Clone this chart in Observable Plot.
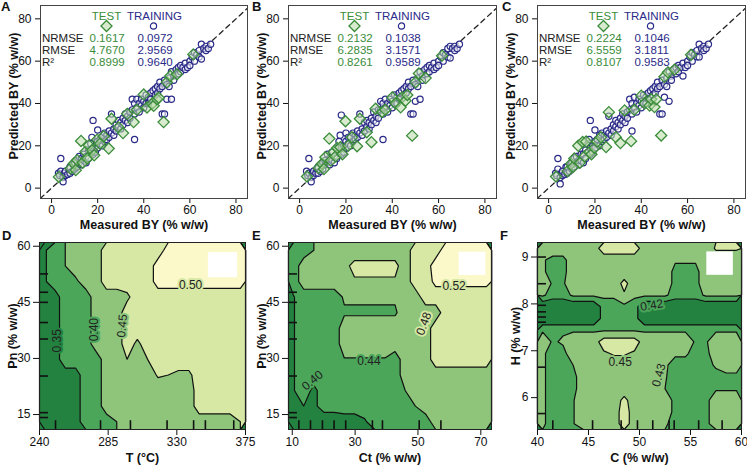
<!DOCTYPE html>
<html>
<head>
<meta charset="utf-8">
<script src="https://cdn.jsdelivr.net/npm/d3@7"></script>
<script src="https://cdn.jsdelivr.net/npm/@observablehq/plot@0.6"></script>
<style>
body { margin: 0; background: #fff; }
#wrap { position: relative; width: 747px; height: 466px; overflow: hidden; font-family: "Liberation Sans", Arial, sans-serif; }
.panel { position: absolute; }
.letter { position: absolute; font-weight: bold; font-size: 13px; line-height: 13px; color: #111; }
</style>
</head>
<body>
<div id="wrap"></div>
<script>
// ---------- Scatter data (top row) ----------
const trainMeasured = [3,3.5,4,4,5,5,5.5,6,6,7,7.5,8,8,9,9.5,10,10,
  11,11,12,12,13,13,14,14,15,15,16,16,17,17,17.5,18,18,18,19,19,20,20,20,
  21,21,22,22,23,23,24,24,25,25,26,26,27,27,28,28,29,29,30,30,
  31,31,32,32,33,33,34,34,35,35,36,36,36,37,37,38,38,39,39,40,40,
  41,41,42,42,43,43,44,45,45,46,46,47,47,48,48,49,49,50,50,51,51,52,52,
  53,53,54,55,55,56,56,57,58,58,59,60,60,61,62,62,63,64,64,65,65,66,67,67,68,69];
const trainPredA = [7,6,14,8,5,3,7,6,8,6.5,9,7,10,8,11,9,12,
  10,13,12,15,11,14,13,16,15,12,14,18,17,21,24,16,32,19,20,17,22,27.5,19,
  21,23,24,20,22,26,25,23,27,24,26,35,28,25,30,27,29,32,31,28,
  33,30,32,35,31,34,36,33,37,42,23,40,35,42,38,36,40,39,42,41,38,
  40,44,43,40,45,42,46,44,47,48,45,50,47,35,48,35,51,49,42,52,48,42,55,
  53,51,56,54,57,58,55,57,59,56,57,60,58,62,60,64,63,65,62,68,61,66,67,65,66,68];
const trainPredB = [8,6,14,7,5,3,7,6,8,7,9,7,10,8,11,9,12,
  11,13,12,16,11,14,13,17,15,12,14,19,17,22,25,16,34.5,19,20,17,22,26,19,
  21,24,24,20,22,26,25,23,27,24,26,35,28,25,31,27,29,32,31,28,
  33,30,32,36,31,34,37,33,37,41,23,40,35,42,38,36,40,39,42,41,38,
  40,44,43,40,45,42,46,44,47,48,45,50,47,35,48,35,51,49,41,52,48,42,55,
  53,51,56,54,57,58,55,57,59,56,57,60,58,62,60,64,63,66,62,67,61.5,66,67,65,66,68];
const trainPredC = [7,6,14,9,5,2,7,6,8,6.5,10,7,10,8,11,9,12,
  10,14,12,15,11,13,13,16,16,12,14,18,17,21,23,16,32,19,20,17,22,27.5,19,
  21,23,25,20,22,26,25,23,27,24,26,34,28,25,30,27,29,32,31,28,
  33,30,32,35,31,34,36,33,37,42,27,40,35,43,38,36,40,39,42,41,38,
  40,44,43,40,45,42,46,44,47,48,45,50,47,35,48,35,51,49,43,52,48,41,55,
  53,51,56,54,57,58,55,57,59,53,57,60,58,62,60,64,63,65,62,68,62,66,67,65,66,68];

const testMeasured = [3.2,8.2,9.7,10.5,11.1,12.8,13.5,14.7,15.5,16.2,17.6,18.5,19.8,21,22.6,24.8,26,29,31,32.8,35.6,37,40,41.4,43.6,44.3,45.7,46.5,48.6,50,51.5,54.4,61.5];
const testPredA = [5.3,9.3,11.6,8.5,13.2,22.3,12,17.2,14,20.2,17.9,15.5,22.9,21,24.5,18.7,32.8,28.7,26,35.1,31.2,37,44.2,38.1,39.8,38.9,42,42.7,31.2,50,53,53.8,63.2];
const testPredB = [5.5,9.5,11.5,9,14.6,23.4,13,17,15,19,19.3,16,31.6,20,24,19.8,32.8,26.4,21.7,37.5,36,37,42.9,40,38.2,43,41.3,44,24.8,50,54.2,52,62.6];
const testPredC = [5.5,8,11.5,10,14,20,12,21.8,15,22,17,16,19,22,24,19.4,35.9,24.1,21.3,36.7,22.2,37,43.7,40,39,42,38.3,42,24.9,52.6,54.7,56,63];

const statNames = ["NRMSE", "RMSE", "R²"];
const statsTestA = ["0.1617", "4.7670", "0.8999"];
const statsTrainA = ["0.0972", "2.9569", "0.9640"];
const statsTestB = ["0.2132", "6.2835", "0.8261"];
const statsTrainB = ["0.1038", "3.1571", "0.9589"];
const statsTestC = ["0.2224", "6.5559", "0.8107"];
const statsTrainC = ["0.1046", "3.1811", "0.9583"];

const topTicks = [0, 20, 40, 60, 80];
const xDomTop = [-4.8, 85];
const yDomTop = [-4.9, 86.3];

// ---------- Contour data (bottom row) ----------
const palette = ["#23823f", "#4ba65a", "#8ec57b", "#d6e8a3", "#fbf9ca"];

// D: T (°C) vs Pn (% w/w); rows from top (Pn high) to bottom
const gridD = [
  [.345,.375,.40,.425,.425,.425,.475,.475,.475,.475,.475,.475,.52,.52,.52,.52,.52,.52,.52,.52],
  [.345,.375,.40,.425,.425,.425,.475,.475,.475,.475,.475,.52,.52,.52,.52,.52,.52,.52,.52,.52],
  [.345,.375,.375,.39,.425,.425,.475,.475,.475,.475,.475,.52,.52,.52,.52,.52,.52,.52,.52,.52],
  [.33,.33,.375,.375,.375,.425,.425,.425,.44,.475,.475,.475,.475,.475,.475,.475,.475,.475,.475,.475],
  [.33,.33,.375,.375,.375,.425,.425,.425,.475,.475,.475,.475,.475,.475,.475,.475,.475,.475,.475,.475],
  [.33,.33,.375,.375,.375,.425,.425,.425,.475,.475,.475,.475,.475,.475,.475,.475,.475,.475,.475,.475],
  [.33,.33,.375,.375,.375,.425,.425,.425,.475,.44,.475,.475,.475,.475,.475,.475,.475,.475,.475,.475],
  [.33,.33,.375,.375,.375,.375,.425,.425,.45,.425,.45,.475,.475,.475,.475,.475,.475,.475,.475,.475],
  [.33,.33,.33,.33,.375,.375,.425,.425,.425,.425,.425,.455,.45,.44,.44,.475,.475,.475,.475,.475],
  [.33,.33,.33,.33,.375,.375,.425,.425,.425,.425,.425,.425,.425,.425,.425,.475,.475,.475,.475,.475],
  [.33,.33,.33,.33,.375,.375,.425,.425,.425,.425,.425,.425,.425,.425,.425,.475,.475,.475,.475,.475],
  [.33,.33,.33,.33,.375,.375,.375,.40,.425,.425,.425,.425,.425,.425,.425,.425,.425,.425,.425,.45]
];
const thresholdsD = [0.3, 0.35, 0.40, 0.45, 0.50];
const xTicksD = [240, 285, 330, 375];
const yTicksPn = [15, 30, 45, 60];
const rugT = [250.5, 280, 299.6, 323.6, 341, 348.7, 367.3];
const rugPn = [52.6, 47.7, 45, 39.6, 35.2, 25.3, 15.5, 14.2];
const labelsD = [
  {x: 251.6, y: 34.7, t: "0.35", r: -90, bg: 0},
  {x: 275.6, y: 37.7, t: "0.40", r: -90, bg: 1},
  {x: 294.2, y: 38.7, t: "0.45", r: -85, bg: 2},
  {x: 339, y: 49.5, t: "0.50", r: 0, bg: 3}
];
const blankD = [{x1: 350.7, x2: 369.8, y1: 51.6, y2: 58.3}];

// E: Ct (% w/w) vs Pn (% w/w)
const gridE = [
  [.42,.42,.44,.46,.46,.46,.46,.46,.46,.46,.46,.46,.50,.50,.50,.54,.54,.54,.54,.54],
  [.42,.46,.46,.46,.46,.47,.49,.49,.49,.49,.49,.46,.50,.50,.54,.54,.54,.54,.54,.54],
  [.42,.46,.46,.46,.46,.46,.476,.476,.476,.476,.476,.46,.50,.50,.53,.53,.53,.53,.53,.53],
  [.398,.42,.42,.42,.42,.445,.445,.445,.445,.445,.445,.46,.46,.50,.50,.50,.50,.50,.50,.50],
  [.398,.42,.42,.42,.42,.435,.435,.435,.435,.435,.435,.46,.46,.46,.46,.50,.50,.50,.50,.50],
  [.398,.42,.42,.42,.42,.46,.46,.46,.46,.46,.46,.46,.46,.46,.50,.50,.50,.50,.50,.50],
  [.398,.42,.42,.42,.42,.46,.46,.46,.46,.46,.46,.46,.46,.46,.50,.50,.50,.50,.50,.50],
  [.398,.42,.42,.42,.42,.438,.438,.438,.438,.438,.42,.46,.46,.46,.50,.50,.50,.50,.50,.50],
  [.398,.42,.42,.42,.42,.42,.42,.42,.42,.42,.42,.46,.46,.46,.46,.46,.46,.46,.46,.46],
  [.398,.42,.39,.42,.42,.42,.42,.42,.42,.42,.42,.44,.46,.46,.46,.46,.46,.46,.46,.46],
  [.398,.40,.39,.42,.42,.42,.42,.42,.42,.42,.42,.42,.44,.46,.46,.46,.46,.46,.46,.46],
  [.37,.37,.37,.37,.37,.38,.38,.395,.42,.42,.42,.42,.42,.42,.46,.46,.46,.46,.46,.46]
];
const thresholdsE = [0.3, 0.40, 0.44, 0.48, 0.52];
const xTicksE = [10, 30, 50, 70];
const rugCt = [12.1, 15.8, 19.6, 23.3, 27, 35.5, 38.7, 50.4, 57.3];
const labelsE = [
  {x: 16.4, y: 24.1, t: "0.40", r: -40, bg: 1},
  {x: 34.4, y: 29.4, t: "0.44", r: 0, bg: 1},
  {x: 51.9, y: 39.3, t: "0.48", r: -70, bg: 3},
  {x: 61.5, y: 49.2, t: "0.52", r: 0, bg: 3}
];
const blankE = [{x1: 63.1, x2: 71.6, y1: 52.2, y2: 58.4}];

// F: C (% w/w) vs H (% w/w)
const gridF = [
  [.44,.44,.44,.44,.44,.44,.46,.46,.46,.46,.44,.44,.44,.44,.44,.44,.44,.452,.452,.452],
  [.432,.425,.425,.44,.44,.44,.44,.44,.44,.44,.44,.44,.44,.432,.432,.432,.44,.44,.44,.44],
  [.432,.425,.425,.44,.44,.44,.44,.44,.44,.44,.44,.44,.44,.425,.425,.425,.44,.44,.44,.44],
  [.44,.428,.428,.44,.44,.44,.44,.44,.455,.44,.44,.44,.44,.425,.425,.425,.44,.44,.44,.44],
  [.432,.425,.425,.432,.432,.432,.432,.432,.448,.432,.432,.432,.432,.425,.425,.425,.432,.432,.432,.432],
  [.41,.41,.41,.41,.41,.41,.425,.425,.425,.425,.41,.41,.41,.41,.41,.41,.41,.41,.41,.41],
  [.41,.41,.41,.41,.41,.41,.425,.425,.425,.425,.41,.41,.41,.41,.41,.41,.41,.41,.41,.41],
  [.428,.428,.428,.428,.428,.428,.428,.428,.428,.428,.428,.428,.428,.428,.428,.428,.428,.428,.428,.428],
  [.44,.428,.432,.44,.44,.44,.46,.46,.46,.46,.44,.44,.44,.44,.44,.428,.428,.44,.44,.44],
  [.432,.425,.425,.44,.44,.44,.447,.452,.452,.447,.44,.44,.44,.432,.432,.425,.425,.44,.44,.44],
  [.432,.425,.425,.43,.44,.44,.44,.44,.44,.44,.44,.44,.432,.425,.425,.425,.425,.432,.44,.44],
  [.432,.425,.425,.425,.44,.44,.44,.44,.44,.44,.44,.44,.431,.425,.425,.425,.425,.425,.425,.425],
  [.432,.425,.425,.425,.44,.44,.44,.44,.44,.44,.44,.44,.43,.425,.425,.425,.425,.428,.428,.428],
  [.432,.425,.425,.429,.44,.44,.44,.44,.455,.44,.44,.44,.44,.425,.425,.425,.425,.44,.44,.44],
  [.432,.425,.425,.429,.44,.44,.44,.44,.46,.44,.44,.44,.44,.425,.425,.425,.425,.44,.44,.44],
  [.432,.425,.425,.429,.44,.44,.44,.44,.46,.44,.44,.44,.432,.425,.425,.425,.425,.44,.44,.44]
];
const thresholdsF = [0.3, 0.42, 0.43, 0.45];
const xTicksF = [40, 45, 50, 55, 60];
const yTicksH = [6, 7, 8, 9];
const rugC = [41.5, 45.4, 48.2, 49.8, 51.3, 52.9, 53.4, 55.8, 58.1];
const rugH = [9.0, 8.43, 7.97, 7.83, 7.72, 7.61, 6.65, 5.66];
const labelsF = [
  {x: 51.2, y: 7.97, t: "0.42", r: -10, bg: 1},
  {x: 48.1, y: 6.76, t: "0.45", r: 0, bg: 2},
  {x: 51.9, y: 6.48, t: "0.43", r: -75, bg: 2}
];
const blankF = [{x1: 56.6, x2: 59.2, y1: 8.61, y2: 9.11}];

// ---------- Styling ----------
const green = "#3a8c3a";
const navy = "#2a2a88";
const baseStyle = {
  fontFamily: "'Liberation Sans', Arial, sans-serif",
  fontSize: "12px",
  background: "transparent",
  overflow: "visible",
  color: "#111"
};

function scatterPanel(predTrain, predTest, statsTest, statsTrain, opts) {
  const train = trainMeasured.map((m, i) => ({m, p: predTrain[i]}));
  const test = testMeasured.map((m, i) => ({m, p: predTest[i]}));
  const tstyle = {frameAnchor: "top-left", fontSize: 11.5, lineAnchor: "top", lineHeight: 1.04, textAnchor: "start"};
  return Plot.plot({
    width: opts.width, height: 232,
    marginLeft: 40, marginRight: opts.marginRight, marginTop: 5, marginBottom: 34,
    style: baseStyle,
    x: {domain: xDomTop, ticks: topTicks, tickSize: 5, tickPadding: 2, tickFormat: "d", label: null},
    y: {domain: yDomTop, ticks: topTicks, tickSize: 5, tickFormat: "d", label: null},
    marks: [
      Plot.line(yDomTop, {x: (d) => d, y: (d) => d, stroke: "#222", strokeWidth: 1.3, strokeDasharray: "5,4", clip: true}),
      Plot.dot(train, {x: "m", y: "p", r: 3.1, stroke: navy, strokeWidth: 1.2, fill: "white", fillOpacity: 0.55}),
      Plot.dot(test, {x: "m", y: "p", r: 5, symbol: "diamond2", stroke: green, strokeWidth: 1.3, fill: "#b8dba6", fillOpacity: 0.55}),
      Plot.text(["TEST"], {text: (d) => d, frameAnchor: "top-left", dx: 66, dy: 11, textAnchor: "middle", lineAnchor: "middle", fill: green, fontSize: 11.5}),
      Plot.text(["TRAINING"], {text: (d) => d, frameAnchor: "top-left", dx: 114, dy: 11, textAnchor: "middle", lineAnchor: "middle", fill: navy, fontSize: 11.5}),
      Plot.dot([0], {frameAnchor: "top-left", dx: 66, dy: 20.5, r: 5, symbol: "diamond2", stroke: green, strokeWidth: 1.3, fill: "#b8dba6", fillOpacity: 0.55}),
      Plot.dot([0], {frameAnchor: "top-left", dx: 113, dy: 20.5, r: 3.1, stroke: navy, strokeWidth: 1.2, fill: "white"}),
      Plot.text([statNames.join("\n")], {...tstyle, text: (d) => d, dx: 1.5, dy: 28, fill: "#222"}),
      Plot.text([statsTest.join("\n")], {...tstyle, text: (d) => d, dx: 49, dy: 28, fill: green}),
      Plot.text([statsTrain.join("\n")], {...tstyle, text: (d) => d, dx: 97, dy: 28, fill: navy}),
      Plot.frame({stroke: "#444"}),
      Plot.text(["Measured BY (% w/w)"], {text: (d) => d, frameAnchor: "bottom", dy: 26.5, textAnchor: "middle", lineAnchor: "middle", fontWeight: "bold", fontSize: 12.5}),
      Plot.text(["Predicted BY (% w/w)"], {text: (d) => d, frameAnchor: "left", dx: -27, dy: -6, rotate: -90, textAnchor: "middle", lineAnchor: "middle", fontWeight: "bold", fontSize: 12.5})
    ]
  });
}

function contourPanel(o) {
  const yspan = o.yDom[1] - o.yDom[0];
  const xspan = o.xDom[1] - o.xDom[0];
  const colors = palette.slice(0, o.thresholds.length);
  return Plot.plot({
    width: o.width, height: 234,
    marginLeft: o.marginLeft, marginRight: o.marginRight, marginTop: 10, marginBottom: 37,
    style: baseStyle,
    x: {domain: o.xDom, ticks: o.xTicks, tickSize: 6, tickPadding: 2, tickFormat: "d", label: null},
    y: {domain: o.yDom, ticks: o.yTicks, tickSize: 6, tickFormat: "d", label: null},
    color: {type: "ordinal", domain: o.thresholds, range: colors},
    marks: [
      Plot.frame({fill: colors[0]}),
      Plot.contour(o.grid.flat(), {
        width: o.grid[0].length, height: o.grid.length,
        x1: o.xDom[0], x2: o.xDom[1], y1: o.yDom[1], y2: o.yDom[0],
        fill: (d) => d, thresholds: o.thresholds,
        stroke: "#111", strokeWidth: 1.2
      }),
      Plot.rect(o.blank, {x1: "x1", x2: "x2", y1: "y1", y2: "y2", fill: "white"}),
      Plot.ruleX(o.rugX, {x: (d) => d, y1: o.yDom[0], y2: o.yDom[0] + yspan * 0.047, stroke: "#111", strokeWidth: 1.6}),
      Plot.ruleY(o.rugY, {y: (d) => d, x1: o.xDom[0], x2: o.xDom[0] + xspan * 0.044, stroke: "#111", strokeWidth: 1.6}),
      Plot.text(o.labels, {x: "x", y: "y", text: "t", rotate: "r", fill: "#222", fontSize: 12,
        stroke: (d) => o.thresholds[d.bg], strokeWidth: 4, paintOrder: "stroke"}),
      Plot.frame({stroke: "#222"}),
      Plot.text([o.xTitle], {text: (d) => d, frameAnchor: "bottom", dy: 28, textAnchor: "middle", lineAnchor: "middle", fontWeight: "bold", fontSize: 12.5}),
      Plot.text([o.yTitle], {text: (d) => d, frameAnchor: "left", dx: o.yTitleDx, rotate: -90, textAnchor: "middle", lineAnchor: "middle", fontWeight: "bold", fontSize: 12.5})
    ]
  });
}

const wrap = document.getElementById("wrap");
function place(node, left, top) {
  const div = document.createElement("div");
  div.className = "panel";
  div.style.left = left + "px";
  div.style.top = top + "px";
  div.appendChild(node);
  wrap.appendChild(div);
}
function letter(ch, left, top) {
  const d = document.createElement("div");
  d.className = "letter";
  d.textContent = ch;
  d.style.left = left + "px";
  d.style.top = top + "px";
  wrap.appendChild(d);
}

place(scatterPanel(trainPredA, testPredA, statsTestA, statsTrainA, {width: 249, marginRight: 2}), 0, 0);
place(scatterPanel(trainPredB, testPredB, statsTestB, statsTrainB, {width: 249, marginRight: 1}), 248, 0);
place(scatterPanel(trainPredC, testPredC, statsTestC, statsTrainC, {width: 250, marginRight: 2}), 497, 0);

place(contourPanel({grid: gridD, xDom: [240, 375], yDom: [11, 61], xTicks: xTicksD, yTicks: yTicksPn,
  thresholds: thresholdsD, rugX: rugT, rugY: rugPn, labels: labelsD, blank: blankD,
  xTitle: "T (°C)", yTitle: "Pn (% w/w)", yTitleDx: -27, width: 249, marginLeft: 39, marginRight: 4}), 0, 232);
place(contourPanel({grid: gridE, xDom: [8.8, 73.4], yDom: [11, 61], xTicks: xTicksE, yTicks: yTicksPn,
  thresholds: thresholdsE, rugX: rugCt, rugY: rugPn, labels: labelsE, blank: blankE,
  xTitle: "Ct (% w/w)", yTitle: "Pn (% w/w)", yTitleDx: -27, width: 249, marginLeft: 40, marginRight: 6}), 248, 232);
place(contourPanel({grid: gridF, xDom: [40, 60], yDom: [5.32, 9.31], xTicks: xTicksF, yTicks: yTicksH,
  thresholds: thresholdsF, rugX: rugC, rugY: rugH, labels: labelsF, blank: blankF,
  xTitle: "C (% w/w)", yTitle: "H (% w/w)", yTitleDx: -22, width: 250, marginLeft: 40, marginRight: 6}), 497, 232);

letter("A", 1, 0);
letter("B", 252, 0);
letter("C", 502, 0);
letter("D", 2, 229);
letter("E", 252, 229);
letter("F", 500, 229);
</script>
</body>
</html>
